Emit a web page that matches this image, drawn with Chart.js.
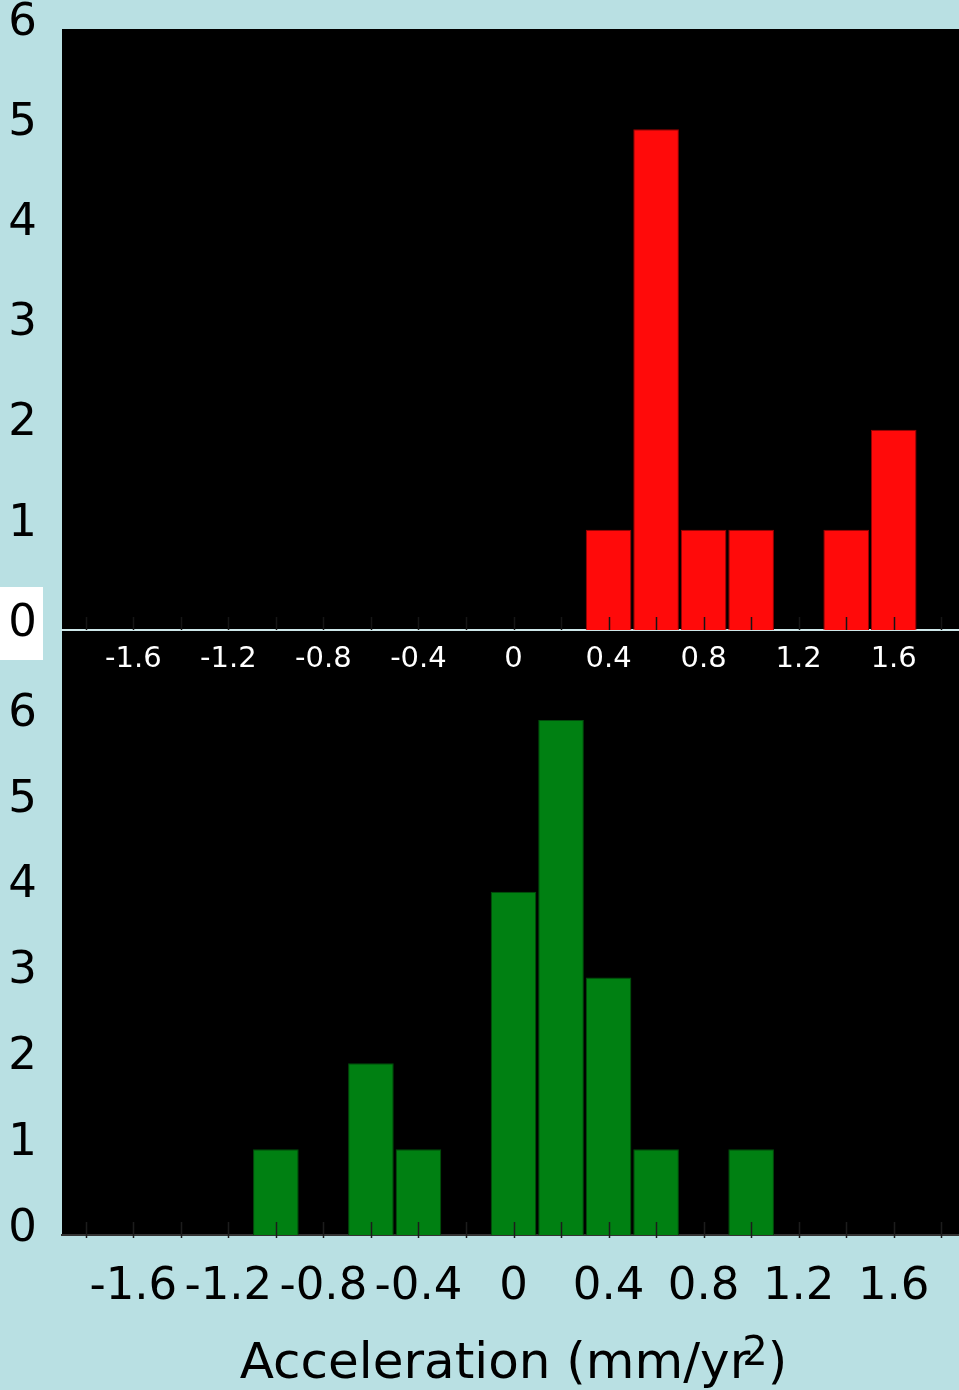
<!DOCTYPE html>
<html>
<head>
<meta charset="utf-8">
<script src="https://cdn.jsdelivr.net/npm/chart.js@4.4.1/dist/chart.umd.min.js"></script>
<style>
  html, body { margin: 0; padding: 0; }
  body { width: 959px; height: 1390px; overflow: hidden; background: #b9e0e3; position: relative; }
  #panel { position: absolute; left: 62px; top: 29px; width: 910px; height: 1206px; background: #000; }
  .box { position: absolute; left: 0; width: 975px; }
  #topBox { top: 0; height: 700px; }
  #bottomBox { top: 680px; height: 710px; }
</style>
</head>
<body>
<div id="panel"></div>
<div class="box" id="topBox"><canvas id="topChart"></canvas></div>
<div class="box" id="bottomBox"><canvas id="bottomChart"></canvas></div>
<script>
// histogram bins (bin centres, width 0.2) and counts
const topBins = [0.4, 0.6, 0.8, 1.0, 1.4, 1.6];
const topCounts = [1, 5, 1, 1, 1, 2];
const bottomBins = [-1.0, -0.6, -0.4, 0, 0.2, 0.4, 0.6, 1.0];
const bottomCounts = [1, 2, 1, 4, 6, 3, 1, 1];

const xTicks = [-1.6, -1.2, -0.8, -0.4, 0, 0.4, 0.8, 1.2, 1.6];
const minorTicks = [-1.8, -1.6, -1.4, -1.2, -1.0, -0.8, -0.6, -0.4, -0.2, 0, 0.2, 0.4, 0.6, 0.8, 1.0, 1.2, 1.4, 1.6, 1.8];
const yTicks = [0, 1, 2, 3, 4, 5, 6];
const xTitle = 'Acceleration (mm/yr';
const xTitleSup = '2';

const FONT = 'DejaVu Sans';

const innerTicks = {
    id: 'innerTicks',
    afterDatasetsDraw(chart, args, opts) {
        const { ctx, chartArea, scales } = chart;
        ctx.save();
        ctx.strokeStyle = opts.color || '#1c1c1c';
        ctx.lineWidth = 1.5;
        minorTicks.forEach(v => {
            const px = Math.round(scales.x.getPixelForValue(v)) + 0.5;
            ctx.beginPath();
            ctx.moveTo(px, chartArea.bottom - 13);
            ctx.lineTo(px, chartArea.bottom + (opts.below || 0));
            ctx.stroke();
        });
        ctx.restore();
    }
};

const axisTitle = {
    id: 'axisTitle',
    afterDraw(chart) {
        const { ctx, scales } = chart;
        ctx.save();
        ctx.fillStyle = '#000';
        ctx.textBaseline = 'alphabetic';
        ctx.textAlign = 'left';
        ctx.font = '50px "' + FONT + '"';
        const wMain = ctx.measureText(xTitle).width;
        const wParen = ctx.measureText(')').width;
        ctx.font = '40px "' + FONT + '"';
        const wSup = ctx.measureText(xTitleSup).width;
        const overlap = 8;
        const total = wMain - overlap + wSup + wParen;
        const x0 = scales.x.getPixelForValue(0) - total / 2;
        const base = chart.height - 12;
        ctx.font = '50px "' + FONT + '"';
        ctx.fillText(xTitle, x0, base);
        ctx.fillText(')', x0 + wMain - overlap + wSup, base);
        ctx.font = '40px "' + FONT + '"';
        ctx.fillText(xTitleSup, x0 + wMain - overlap, base - 13);
        ctx.restore();
    }
};

function fmt(v) {
    return String(Number(v.toFixed(1)));
}

function makeChart(id, bins, counts, color, edge, opts) {
    return new Chart(document.getElementById(id), {
        type: 'bar',
        data: {
            datasets: [{
                data: bins.map((b, i) => ({ x: b, y: counts[i] })),
                backgroundColor: color,
                borderColor: edge,
                borderWidth: 1,
                barPercentage: 0.96,
                categoryPercentage: 1
            }]
        },
        options: {
            responsive: true,
            maintainAspectRatio: false,
            animation: false,
            layout: { padding: { top: opts.padTop, right: 10, left: 0, bottom: 0 } },
            plugins: { legend: { display: false }, tooltip: { enabled: false }, innerTicks: { below: opts.below, color: opts.tickColor } },
            scales: {
                x: {
                    type: 'linear',
                    offset: false,
                    min: -1.9,
                    max: 1.9,
                    afterBuildTicks: s => { s.ticks = xTicks.map(v => ({ value: v })); },
                    afterFit: s => { s.height = opts.xHeight; s.paddingLeft = 0; s.paddingRight = 0; },
                    grid: { display: false, drawTicks: false },
                    border: { display: true, color: opts.axisColor, width: 2 },
                    ticks: {
                        color: opts.xColor,
                        font: { family: FONT, size: opts.xSize },
                        padding: opts.xPad,
                        maxRotation: 0,
                        autoSkip: false,
                        callback: v => fmt(v)
                    }
                },
                y: {
                    min: 0,
                    max: 6,
                    afterBuildTicks: s => { s.ticks = yTicks.map(v => ({ value: v })); },
                    afterFit: s => { s.width = 62; s.paddingTop = 0; s.paddingBottom = 0; },
                    grid: { display: false, drawTicks: false },
                    border: { display: false },
                    ticks: {
                        color: '#000',
                        font: { family: FONT, size: 45 },
                        padding: 25,
                        labelOffset: -6,
                        showLabelBackdrop: opts.zeroBox,
                        backdropColor: c => (c.tick && c.tick.value === 0) ? '#ffffff' : 'rgba(0,0,0,0)',
                        backdropPadding: { top: 10, bottom: 9, left: 9, right: 6 },
                        callback: v => String(v)
                    }
                }
            }
        },
        plugins: opts.title ? [innerTicks, axisTitle] : [innerTicks]
    });
}

const topChart = makeChart('topChart', topBins, topCounts, '#ff0a0a', '#9a0000', {
    padTop: 29, xHeight: 70, axisColor: '#cde7e9', xColor: '#ffffff', xSize: 29, xPad: 12, below: 0,
    tickColor: '#161616', zeroBox: true, title: false
});

const bottomChart = makeChart('bottomChart', bottomBins, bottomCounts, '#008012', '#004d0b', {
    padTop: 40, xHeight: 155, axisColor: '#333333', xColor: '#000000', xSize: 45, xPad: 25, below: 3,
    tickColor: '#1c1c1c', zeroBox: false, title: true
});
</script>
</body>
</html>
